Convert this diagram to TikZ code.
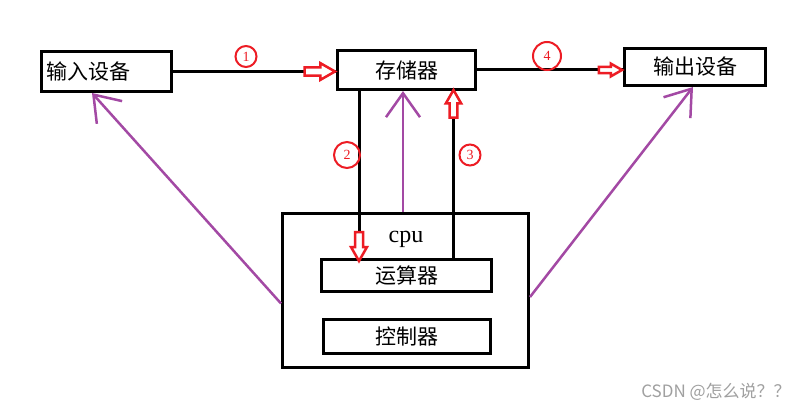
\documentclass[tikz,border=0pt]{standalone}
\usepackage{fontspec}
\setmainfont{Liberation Serif}
\newfontfamily\cjk{Noto Sans CJK SC}
\usetikzlibrary{arrows.meta, positioning, calc}
\definecolor{pRed}{HTML}{ED1C24}
\definecolor{pPurple}{HTML}{A349A4}
\definecolor{pGray}{HTML}{A0A0A0}

\begin{document}
\begin{tikzpicture}[x=1pt, y=-1pt,
    box/.style={draw, line width=3pt, inner sep=0pt, font=\cjk\fontsize{21}{24}\selectfont},
    conn/.style={line width=3pt},
    pconn/.style={pPurple, line width=2.5pt, -{Straight Barb[length=24pt, width=34pt]}},
    num/.style={draw=pRed, circle, line width=2pt, text=pRed, inner sep=0pt, font=\fontsize{14}{14}\selectfont},
    holarrow/.pic={\draw[pRed, line width=2.5pt, fill=white] (0,0) -- (-14,-8) -- (-14,-4) -- (-29,-4) -- (-29,4) -- (-14,4) -- (-14,8) -- cycle;}]
    \useasboundingbox[fill=white] (0,0) rectangle (812,412);
    \node[box, minimum height=40pt, text width=120pt, inner xsep=5pt, align=left] (inp) at (106.5,71.5) {输入设备};
    \node[box, minimum width=138pt, minimum height=39pt] (mem) at (406.5,70) {存储器};
    \node[box, minimum width=141pt, minimum height=37pt] (outp) at (695,67) {输出设备};
    \node[box, minimum width=246pt, minimum height=154pt] (cpu) at (405.5,290.5) {};
    \node[box, minimum width=170pt, minimum height=32pt] (alu) at (406.5,275.5) {运算器};
    \node[box, minimum width=167pt, minimum height=34pt] (ctrl) at (407,336.5) {控制器};
    \node[font=\fontsize{24}{24}\selectfont] (cpulbl) at (406,239) {cpu};
    \draw[conn] (inp.east) -- (inp.east -| mem.west);
    \pic[scale=1.05] at ([xshift=-1pt]inp.east -| mem.west) {holarrow};
    \draw[conn] (mem.east) -- (mem.east -| outp.west);
    \pic[scale=0.8] at ([xshift=-1pt]mem.east -| outp.west) {holarrow};
    \coordinate (m2) at ([xshift=-47.5pt]mem.south);
    \coordinate (m3) at ([xshift=47pt]mem.south);
    \draw[conn] (m2) -- (m2 |- alu.north);
    \pic[rotate=-90] at ([yshift=-3pt]m2 |- alu.north) {holarrow};
    \draw[conn] (m3 |- alu.north) -- (m3);
    \pic[rotate=90, scale=0.95] at ([yshift=1pt]m3) {holarrow};
    \draw[pconn] ([xshift=-2.5pt]cpu.north) -- ([xshift=-2.5pt]cpu.north |- mem.south);
    \draw[pconn] ([yshift=-13pt]cpu.west) -- ([xshift=-14.5pt]inp.south);
    \draw[pconn] ([yshift=-6.5pt]cpu.east) -- ([xshift=-2pt]outp.south);
    \node[num, minimum size=21pt] (n1) at (246,56.5) {1};
    \node[num, minimum size=26pt] (n2) at (347,155) {2};
    \node[num, minimum size=21pt] (n3) at (470,155) {3};
    \node[num, minimum size=28pt] (n4) at (547,56) {4};
    \node[text=pGray, font=\cjk\fontsize{17}{17}\selectfont] (mark) at (716,392) {CSDN @怎么说？？};
\end{tikzpicture}
\end{document}
